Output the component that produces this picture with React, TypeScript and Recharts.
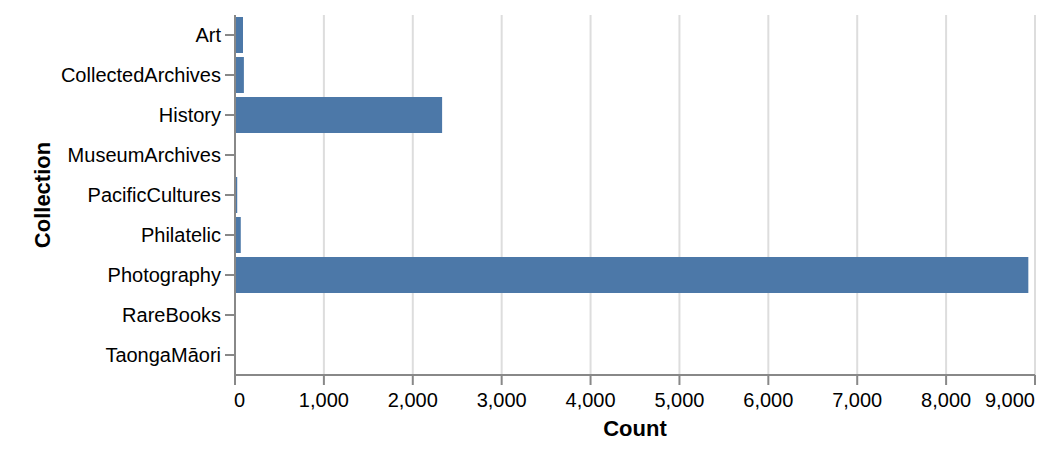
import React from 'react';
import { BarChart, Bar, XAxis, YAxis, CartesianGrid } from 'recharts';

const collections = [
  'Art',
  'CollectedArchives',
  'History',
  'MuseumArchives',
  'PacificCultures',
  'Philatelic',
  'Photography',
  'RareBooks',
  'TaongaMāori',
];
const counts = [90, 100, 2330, 10, 25, 65, 8925, 10, 2];
const countTicks = [0, 1000, 2000, 3000, 4000, 5000, 6000, 7000, 8000, 9000];

const data = collections.map((c, i) => ({ collection: c, count: counts[i] }));

const FONT = '"Liberation Sans", Arial, Helvetica, sans-serif';
const AXIS = '#888';
const GRID = '#ddd';

function CountTick(props: any) {
  const { x, y, payload } = props;
  const v = payload.value;
  const last = countTicks[countTicks.length - 1];
  // flush first and last labels to the axis ends
  const anchor = v === 0 ? 'start' : v === last ? 'end' : 'middle';
  const dx = v === 0 ? -1 : 0;
  return (
    <text
      x={x + dx}
      y={y + 20}
      textAnchor={anchor}
      fill="#000"
      fontSize={20}
      fontFamily={FONT}
    >
      {v.toLocaleString('en-US')}
    </text>
  );
}

function CollectionTick(props: any) {
  const { x, y, payload } = props;
  return (
    <text
      x={x}
      y={y + 7}
      textAnchor="end"
      fill="#000"
      fontSize={20}
      fontFamily={FONT}
    >
      {payload.value}
    </text>
  );
}

function CountTitle(props: any) {
  const vb = props.viewBox;
  return (
    <text
      x={vb.x + vb.width / 2}
      y={vb.y + 61}
      textAnchor="middle"
      fill="#000"
      fontSize={22}
      fontWeight="bold"
      fontFamily={FONT}
    >
      Count
    </text>
  );
}

function CollectionTitle(props: any) {
  const vb = props.viewBox;
  const cx = 50;
  const cy = vb.y + vb.height / 2;
  return (
    <text
      x={cx}
      y={cy}
      transform={`rotate(-90, ${cx}, ${cy})`}
      textAnchor="middle"
      fill="#000"
      fontSize={22}
      fontWeight="bold"
      fontFamily={FONT}
    >
      Collection
    </text>
  );
}

export default function App() {
  return (
    <div style={{ position: 'absolute', left: 0, top: 0, background: '#fff' }}>
      <BarChart
        width={1054}
        height={460}
        data={data}
        layout="vertical"
        margin={{ top: 15, right: 19, bottom: 0, left: 0 }}
        barCategoryGap="5%"
      >
        <CartesianGrid horizontal={false} stroke={GRID} strokeWidth={2} />
        <XAxis
          xAxisId="top"
          orientation="top"
          type="number"
          domain={[0, 9000]}
          height={0}
          tick={false}
          tickLine={false}
          axisLine={{ stroke: GRID, strokeWidth: 2 }}
        />
        <XAxis
          type="number"
          dataKey="count"
          domain={[0, 9000]}
          ticks={countTicks}
          interval={0}
          height={85}
          tick={<CountTick />}
          tickSize={10}
          tickLine={{ stroke: AXIS, strokeWidth: 2 }}
          axisLine={{ stroke: AXIS, strokeWidth: 2 }}
          label={<CountTitle />}
        />
        <YAxis
          type="category"
          dataKey="collection"
          width={235}
          interval={0}
          tick={<CollectionTick />}
          tickSize={10}
          tickMargin={4}
          tickLine={{ stroke: AXIS, strokeWidth: 2 }}
          axisLine={{ stroke: AXIS, strokeWidth: 2 }}
          label={<CollectionTitle />}
        />
        <Bar dataKey="count" fill="#4c78a8" isAnimationActive={false} />
      </BarChart>
    </div>
  );
}
